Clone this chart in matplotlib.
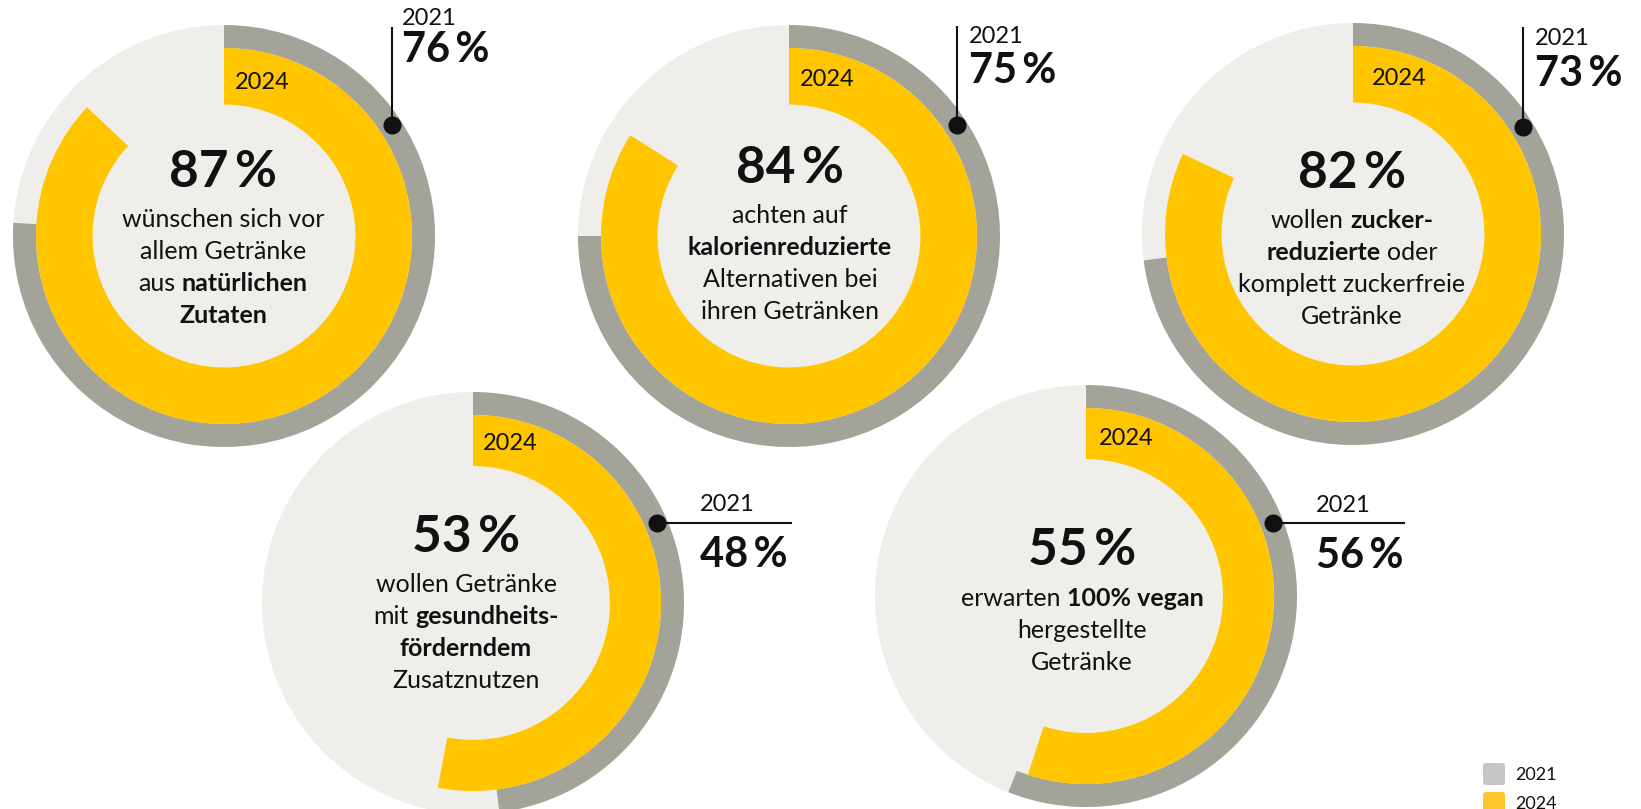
import re
import numpy as np
import matplotlib
matplotlib.use("Agg")
import matplotlib.pyplot as plt
from matplotlib.patches import FancyBboxPatch

plt.rcParams['font.family'] = ['Lato', 'DejaVu Sans']

# --- data -------------------------------------------------------------
values_2024 = [87, 84, 82, 53, 55]
values_2021 = [76, 75, 73, 48, 56]
captions = [
    ["wünschen sich vor", "allem Getränke", "aus **natürlichen**", "**Zutaten**"],
    ["achten auf", "**kalorienreduzierte**", "Alternativen bei", "ihren Getränken"],
    ["wollen **zucker-**", "**reduzierte** oder", "komplett zuckerfreie", "Getränke"],
    ["wollen Getränke", "mit **gesundheits-**", "**förderndem**", "Zusatznutzen"],
    ["erwarten **100% vegan**", "hergestellte", "Getränke"],
]
years = ["2021", "2024"]

# --- layout (pixels) --------------------------------------------------
W, H = 1641, 809
centers = [(224, 236), (789, 236), (1353, 234), (473, 603), (1086, 596)]
radius = 211
yellow_inner = [0.623, 0.623, 0.623, 0.649, 0.649]
big_base = [187, 183, 188, 552, 565]
line_base0 = [227, 223, 228, 592, 606]
line_step = 32
text_cx = [223, 790, 1352, 466, 1082]
tag_base = [89, 86, 85, 450, 445]
tag_dx = [11, 11, 19, 10, 13]
dot_angle = [56.5, 56.5, 57.7, 66.5, 68.8]
year_base = [25, 43, 45, 511, 512]
pct_base = [62, 83, 86, 567, 568]
label_x = [402, 969, 1535, 700, 1316]
line_end = [27, 26, 27, 792, 1405]

GRAY = '#a3a39a'
YELLOW = '#ffc600'
LIGHT = '#efeeea'
INK = '#111111'

fig = plt.figure(figsize=(W / 100, H / 100), dpi=100)

# donuts: one axes per chart
for i in range(5):
    cx, cy = centers[i]
    r = radius
    ax = fig.add_axes([(cx - r) / W, 1 - (cy + r) / H, 2 * r / W, 2 * r / H])
    ax.pie([100], radius=1, colors=[LIGHT], wedgeprops=dict(linewidth=0))
    ax.pie([values_2021[i], 100 - values_2021[i]], radius=1, colors=[GRAY, 'none'],
           startangle=90, counterclock=False, wedgeprops=dict(width=0.109, linewidth=0))
    ax.pie([values_2024[i], 100 - values_2024[i]], radius=0.891, colors=[YELLOW, 'none'],
           startangle=90, counterclock=False,
           wedgeprops=dict(width=0.891 - yellow_inner[i], linewidth=0))
    ax.set_aspect('auto')
    ax.set_xlim(-1, 1)
    ax.set_ylim(-1, 1)
    ax.axis('off')
    ax.patch.set_visible(False)

# overlay in pixel coordinates for text and pointers
ov = fig.add_axes([0, 0, 1, 1])
ov.set_xlim(0, W)
ov.set_ylim(H, 0)
ov.axis('off')
ov.patch.set_visible(False)

renderer = fig.canvas.get_renderer()
BODY = 18


def text_width(s, bold):
    t = ov.text(0, 0, s, fontsize=BODY, fontweight='bold' if bold else 'normal')
    w = t.get_window_extent(renderer).width
    t.remove()
    return w


space_w = text_width("a a", False) - text_width("aa", False)


def rich_line(x, y, line):
    parts = []
    for k, seg in enumerate(re.split(r'\*\*', line)):
        if seg.strip():
            parts.append((seg.strip(), k % 2 == 1))
    widths = [text_width(s, b) for s, b in parts]
    total = sum(widths) + space_w * (len(parts) - 1)
    start = x - total / 2
    for (s, b), w in zip(parts, widths):
        ov.text(start, y, s, fontsize=BODY, fontweight='bold' if b else 'normal',
                color=INK, ha='left', va='baseline')
        start += w + space_w


for i in range(5):
    cx, cy = centers[i]
    ov.text(text_cx[i], big_base[i], f"{values_2024[i]}\u2009%", fontsize=37,
            fontweight='bold', color=INK, ha='center', va='baseline')
    for j, line in enumerate(captions[i]):
        rich_line(text_cx[i], line_base0[i] + j * line_step, line)
    ov.text(cx + tag_dx[i], tag_base[i], years[1], fontsize=17, color=INK,
            ha='left', va='baseline')

    # pointer to the 2021 ring
    a = np.radians(dot_angle[i])
    px = cx + radius * 0.952 * np.sin(a)
    py = cy - radius * 0.952 * np.cos(a)
    if i < 3:
        ov.plot([px, px], [py, line_end[i]], color=INK, lw=1.5, solid_capstyle='butt')
    else:
        ov.plot([px, line_end[i]], [py, py], color=INK, lw=1.5, solid_capstyle='butt')
    ov.plot([px], [py], 'o', color=INK, ms=12)
    ov.text(label_x[i], year_base[i], years[0], fontsize=17, color=INK,
            ha='left', va='baseline')
    ov.text(label_x[i], pct_base[i], f"{values_2021[i]}\u2009%", fontsize=30,
            fontweight='bold', color=INK, ha='left', va='baseline')

# legend
for k, (lab, col) in enumerate(zip(years, ['#c6c6c6', '#ffc62b'])):
    y0 = 763 + k * 29
    ov.add_patch(FancyBboxPatch((1484, y0 + 1), 20, 20, boxstyle='round,pad=1,rounding_size=3',
                                facecolor=col, edgecolor='none'))
    ov.text(1515, y0 + 17, lab, fontsize=13, color=INK, ha='left', va='baseline')

fig.savefig('out.png', dpi=100)
